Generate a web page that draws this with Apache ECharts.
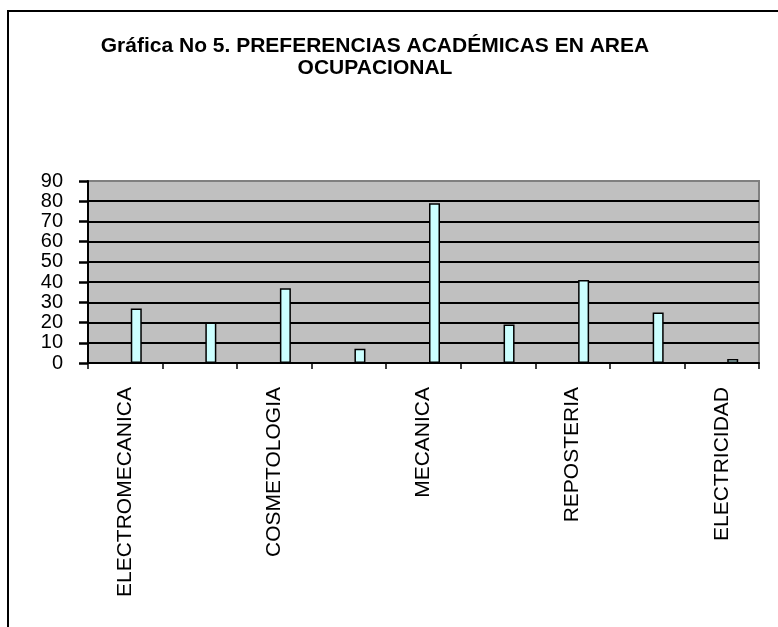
<!DOCTYPE html>
<html>
<head>
<meta charset="utf-8">
<script src="https://cdn.jsdelivr.net/npm/echarts@6/dist/echarts.min.js"></script>
<style>
  html, body { margin: 0; padding: 0; background: #fff; }
  #chart { width: 778px; height: 627px; }
</style>
</head>
<body>
<div id="chart"></div>
<script>
// categorias (solo se ven las pares, como en la grafica original)
const categories = ['ELECTROMECANICA', '', 'COSMETOLOGIA', '', 'MECANICA', '', 'REPOSTERIA', '', 'ELECTRICIDAD']
const preferencias = [27, 20, 37, 7, 79, 19, 41, 25, 2]
const yTicks = [0, 10, 20, 30, 40, 50, 60, 70, 80, 90]

const font = 'Liberation Sans, Arial, sans-serif'

const chart = echarts.init(document.getElementById('chart'))
chart.setOption({
  animation: false,
  backgroundColor: '#fff',
  title: {
    text: 'Gráfica No 5. PREFERENCIAS ACADÉMICAS EN AREA\nOCUPACIONAL',
    left: 370,
    top: 30,
    textAlign: 'center',
    textStyle: {
      fontFamily: font,
      fontSize: 21,
      fontWeight: 'bold',
      color: '#000',
      lineHeight: 22,
      align: 'center'
    }
  },
  graphic: [{
    type: 'rect',
    shape: { x: 8, y: 11, width: 800, height: 700 },
    style: { fill: 'none', stroke: '#000', lineWidth: 2 },
    silent: true
  }],
  grid: {
    left: 88,
    right: 19,
    top: 181,
    bottom: 264,
    show: true,
    backgroundColor: '#C0C0C0',
    borderColor: '#808080',
    borderWidth: 2
  },
  xAxis: {
    type: 'category',
    data: categories,
    axisLine: { lineStyle: { color: '#000', width: 2 } },
    axisTick: { show: true, interval: 0, length: 6, lineStyle: { color: '#000', width: 1.5 } },
    axisLabel: {
      interval: 1,
      rotate: 90,
      margin: 24,
      fontFamily: font,
      fontSize: 21,
      color: '#000'
    }
  },
  yAxis: {
    type: 'value',
    min: yTicks[0],
    max: yTicks[yTicks.length - 1],
    interval: 10,
    axisLine: { show: true, lineStyle: { color: '#000', width: 2 } },
    axisTick: { show: true, length: 9, lineStyle: { color: '#000', width: 2.5 } },
    axisLabel: {
      margin: 25,
      showMinLabel: true,
      showMaxLabel: true,
      hideOverlap: false,
      fontFamily: font,
      fontSize: 20,
      lineHeight: 14,
      color: '#000'
    },
    splitLine: { show: true, showMaxLine: false, lineStyle: { color: '#000', width: 2 } }
  },
  series: [{
    // serie vacia: deja la barra corrida a la derecha como en Excel
    name: 'vacia',
    type: 'bar',
    barWidth: 11,
    barGap: '100%',
    data: categories.map(() => null)
  }, {
    name: 'Preferencias',
    type: 'bar',
    barWidth: 11,
    barGap: '100%',
    data: preferencias,
    itemStyle: { color: '#CCFFFF', borderColor: '#000', borderWidth: 1.5 }
  }]
})
</script>
</body>
</html>
